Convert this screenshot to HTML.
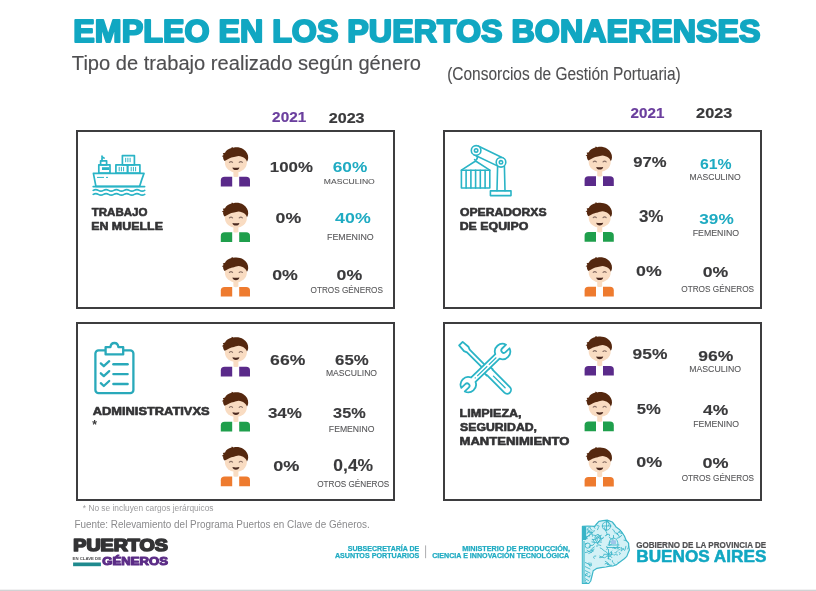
<!DOCTYPE html>
<html lang="es"><head><meta charset="utf-8"><title>Empleo en los Puertos Bonaerenses</title>
<style>html,body{margin:0;padding:0;background:#fff;width:816px;height:591px;overflow:hidden}
svg{display:block;font-family:"Liberation Sans", "DejaVu Sans", sans-serif}</style></head>
<body><svg width="816" height="591" viewBox="0 0 816 591">
<rect width="816" height="591" fill="#fff"/>
<rect x="77" y="131" width="317" height="177" fill="none" stroke="#3d3d3f" stroke-width="2"/>
<rect x="77" y="323" width="317" height="177" fill="none" stroke="#3d3d3f" stroke-width="2"/>
<rect x="444" y="131" width="317" height="177" fill="none" stroke="#3d3d3f" stroke-width="2"/>
<rect x="444" y="323" width="317" height="177" fill="none" stroke="#3d3d3f" stroke-width="2"/>
<g transform="translate(221.0,147.1)"><path d="M-0.2,39.4 L-0.2,33.4 Q-0.2,29.7 3.6,29.7 L11.2,29.7 L11.2,39.4 Z" fill="#5a2a8a"/><path d="M18.2,29.7 L25.2,29.7 Q29,29.7 29,33.4 L29,39.4 L18.2,39.4 Z" fill="#5a2a8a"/><path d="M12.4,22 L17.4,22 L17.4,29.4 Q14.9,30.6 12.4,29.4 Z" fill="#f9dcc2"/><ellipse cx="14.9" cy="15.3" rx="11" ry="10" fill="#f9dcc2"/><path d="M3.6,13.8 C2.4,12.4 1.8,11 2.2,9.6 L0.8,9.2 L2.6,7.8 L1.8,6.2 L4,5.6 C5,3 7.5,1.4 10.5,0.8 L10.8,-0.2 L12.6,0.6 C15.5,-0.2 19.5,0.4 22.4,2.2 C25.6,4.2 27.4,7.6 27.2,11 C27.1,12.4 26.7,13.6 26,14.6 C25.4,13 24.6,11.8 23.4,11 C21.8,9.6 19.8,9 17.6,8.8 C15.8,8.8 14.6,9.6 13,10 C11.2,10.4 9.6,10.6 8.2,11.4 C6.6,12.2 5.2,13 3.6,13.8 Z" fill="#55280f"/><path d="M8.4,15.3 Q10,13.7 11.6,15.3 M18.2,15.3 Q19.8,13.7 21.4,15.3" fill="none" stroke="#8a7066" stroke-width="1.1" stroke-linecap="round"/><path d="M11.4,20.3 Q14.9,21 18.4,20.3 Q17.8,23 14.9,23 Q12,23 11.4,20.3 Z" fill="#4b2a20"/></g>
<g transform="translate(221.0,202.6)"><path d="M-0.2,39.4 L-0.2,33.4 Q-0.2,29.7 3.6,29.7 L11.2,29.7 L11.2,39.4 Z" fill="#1f9f4c"/><path d="M18.2,29.7 L25.2,29.7 Q29,29.7 29,33.4 L29,39.4 L18.2,39.4 Z" fill="#1f9f4c"/><path d="M12.4,22 L17.4,22 L17.4,29.4 Q14.9,30.6 12.4,29.4 Z" fill="#f9dcc2"/><ellipse cx="14.9" cy="15.3" rx="11" ry="10" fill="#f9dcc2"/><path d="M3.6,13.8 C2.4,12.4 1.8,11 2.2,9.6 L0.8,9.2 L2.6,7.8 L1.8,6.2 L4,5.6 C5,3 7.5,1.4 10.5,0.8 L10.8,-0.2 L12.6,0.6 C15.5,-0.2 19.5,0.4 22.4,2.2 C25.6,4.2 27.4,7.6 27.2,11 C27.1,12.4 26.7,13.6 26,14.6 C25.4,13 24.6,11.8 23.4,11 C21.8,9.6 19.8,9 17.6,8.8 C15.8,8.8 14.6,9.6 13,10 C11.2,10.4 9.6,10.6 8.2,11.4 C6.6,12.2 5.2,13 3.6,13.8 Z" fill="#55280f"/><path d="M8.4,15.3 Q10,13.7 11.6,15.3 M18.2,15.3 Q19.8,13.7 21.4,15.3" fill="none" stroke="#8a7066" stroke-width="1.1" stroke-linecap="round"/><path d="M11.4,20.3 Q14.9,21 18.4,20.3 Q17.8,23 14.9,23 Q12,23 11.4,20.3 Z" fill="#4b2a20"/></g>
<g transform="translate(221.0,257.2)"><path d="M-0.2,39.4 L-0.2,33.4 Q-0.2,29.7 3.6,29.7 L11.2,29.7 L11.2,39.4 Z" fill="#ee7b2f"/><path d="M18.2,29.7 L25.2,29.7 Q29,29.7 29,33.4 L29,39.4 L18.2,39.4 Z" fill="#ee7b2f"/><path d="M12.4,22 L17.4,22 L17.4,29.4 Q14.9,30.6 12.4,29.4 Z" fill="#f9dcc2"/><ellipse cx="14.9" cy="15.3" rx="11" ry="10" fill="#f9dcc2"/><path d="M3.6,13.8 C2.4,12.4 1.8,11 2.2,9.6 L0.8,9.2 L2.6,7.8 L1.8,6.2 L4,5.6 C5,3 7.5,1.4 10.5,0.8 L10.8,-0.2 L12.6,0.6 C15.5,-0.2 19.5,0.4 22.4,2.2 C25.6,4.2 27.4,7.6 27.2,11 C27.1,12.4 26.7,13.6 26,14.6 C25.4,13 24.6,11.8 23.4,11 C21.8,9.6 19.8,9 17.6,8.8 C15.8,8.8 14.6,9.6 13,10 C11.2,10.4 9.6,10.6 8.2,11.4 C6.6,12.2 5.2,13 3.6,13.8 Z" fill="#55280f"/><path d="M8.4,15.3 Q10,13.7 11.6,15.3 M18.2,15.3 Q19.8,13.7 21.4,15.3" fill="none" stroke="#8a7066" stroke-width="1.1" stroke-linecap="round"/><path d="M11.4,20.3 Q14.9,21 18.4,20.3 Q17.8,23 14.9,23 Q12,23 11.4,20.3 Z" fill="#4b2a20"/></g>
<g transform="translate(584.8,146.6)"><path d="M-0.2,39.4 L-0.2,33.4 Q-0.2,29.7 3.6,29.7 L11.2,29.7 L11.2,39.4 Z" fill="#5a2a8a"/><path d="M18.2,29.7 L25.2,29.7 Q29,29.7 29,33.4 L29,39.4 L18.2,39.4 Z" fill="#5a2a8a"/><path d="M12.4,22 L17.4,22 L17.4,29.4 Q14.9,30.6 12.4,29.4 Z" fill="#f9dcc2"/><ellipse cx="14.9" cy="15.3" rx="11" ry="10" fill="#f9dcc2"/><path d="M3.6,13.8 C2.4,12.4 1.8,11 2.2,9.6 L0.8,9.2 L2.6,7.8 L1.8,6.2 L4,5.6 C5,3 7.5,1.4 10.5,0.8 L10.8,-0.2 L12.6,0.6 C15.5,-0.2 19.5,0.4 22.4,2.2 C25.6,4.2 27.4,7.6 27.2,11 C27.1,12.4 26.7,13.6 26,14.6 C25.4,13 24.6,11.8 23.4,11 C21.8,9.6 19.8,9 17.6,8.8 C15.8,8.8 14.6,9.6 13,10 C11.2,10.4 9.6,10.6 8.2,11.4 C6.6,12.2 5.2,13 3.6,13.8 Z" fill="#55280f"/><path d="M8.4,15.3 Q10,13.7 11.6,15.3 M18.2,15.3 Q19.8,13.7 21.4,15.3" fill="none" stroke="#8a7066" stroke-width="1.1" stroke-linecap="round"/><path d="M11.4,20.3 Q14.9,21 18.4,20.3 Q17.8,23 14.9,23 Q12,23 11.4,20.3 Z" fill="#4b2a20"/></g>
<g transform="translate(584.8,202.4)"><path d="M-0.2,39.4 L-0.2,33.4 Q-0.2,29.7 3.6,29.7 L11.2,29.7 L11.2,39.4 Z" fill="#1f9f4c"/><path d="M18.2,29.7 L25.2,29.7 Q29,29.7 29,33.4 L29,39.4 L18.2,39.4 Z" fill="#1f9f4c"/><path d="M12.4,22 L17.4,22 L17.4,29.4 Q14.9,30.6 12.4,29.4 Z" fill="#f9dcc2"/><ellipse cx="14.9" cy="15.3" rx="11" ry="10" fill="#f9dcc2"/><path d="M3.6,13.8 C2.4,12.4 1.8,11 2.2,9.6 L0.8,9.2 L2.6,7.8 L1.8,6.2 L4,5.6 C5,3 7.5,1.4 10.5,0.8 L10.8,-0.2 L12.6,0.6 C15.5,-0.2 19.5,0.4 22.4,2.2 C25.6,4.2 27.4,7.6 27.2,11 C27.1,12.4 26.7,13.6 26,14.6 C25.4,13 24.6,11.8 23.4,11 C21.8,9.6 19.8,9 17.6,8.8 C15.8,8.8 14.6,9.6 13,10 C11.2,10.4 9.6,10.6 8.2,11.4 C6.6,12.2 5.2,13 3.6,13.8 Z" fill="#55280f"/><path d="M8.4,15.3 Q10,13.7 11.6,15.3 M18.2,15.3 Q19.8,13.7 21.4,15.3" fill="none" stroke="#8a7066" stroke-width="1.1" stroke-linecap="round"/><path d="M11.4,20.3 Q14.9,21 18.4,20.3 Q17.8,23 14.9,23 Q12,23 11.4,20.3 Z" fill="#4b2a20"/></g>
<g transform="translate(584.8,257.1)"><path d="M-0.2,39.4 L-0.2,33.4 Q-0.2,29.7 3.6,29.7 L11.2,29.7 L11.2,39.4 Z" fill="#ee7b2f"/><path d="M18.2,29.7 L25.2,29.7 Q29,29.7 29,33.4 L29,39.4 L18.2,39.4 Z" fill="#ee7b2f"/><path d="M12.4,22 L17.4,22 L17.4,29.4 Q14.9,30.6 12.4,29.4 Z" fill="#f9dcc2"/><ellipse cx="14.9" cy="15.3" rx="11" ry="10" fill="#f9dcc2"/><path d="M3.6,13.8 C2.4,12.4 1.8,11 2.2,9.6 L0.8,9.2 L2.6,7.8 L1.8,6.2 L4,5.6 C5,3 7.5,1.4 10.5,0.8 L10.8,-0.2 L12.6,0.6 C15.5,-0.2 19.5,0.4 22.4,2.2 C25.6,4.2 27.4,7.6 27.2,11 C27.1,12.4 26.7,13.6 26,14.6 C25.4,13 24.6,11.8 23.4,11 C21.8,9.6 19.8,9 17.6,8.8 C15.8,8.8 14.6,9.6 13,10 C11.2,10.4 9.6,10.6 8.2,11.4 C6.6,12.2 5.2,13 3.6,13.8 Z" fill="#55280f"/><path d="M8.4,15.3 Q10,13.7 11.6,15.3 M18.2,15.3 Q19.8,13.7 21.4,15.3" fill="none" stroke="#8a7066" stroke-width="1.1" stroke-linecap="round"/><path d="M11.4,20.3 Q14.9,21 18.4,20.3 Q17.8,23 14.9,23 Q12,23 11.4,20.3 Z" fill="#4b2a20"/></g>
<g transform="translate(221.0,337.0)"><path d="M-0.2,39.4 L-0.2,33.4 Q-0.2,29.7 3.6,29.7 L11.2,29.7 L11.2,39.4 Z" fill="#5a2a8a"/><path d="M18.2,29.7 L25.2,29.7 Q29,29.7 29,33.4 L29,39.4 L18.2,39.4 Z" fill="#5a2a8a"/><path d="M12.4,22 L17.4,22 L17.4,29.4 Q14.9,30.6 12.4,29.4 Z" fill="#f9dcc2"/><ellipse cx="14.9" cy="15.3" rx="11" ry="10" fill="#f9dcc2"/><path d="M3.6,13.8 C2.4,12.4 1.8,11 2.2,9.6 L0.8,9.2 L2.6,7.8 L1.8,6.2 L4,5.6 C5,3 7.5,1.4 10.5,0.8 L10.8,-0.2 L12.6,0.6 C15.5,-0.2 19.5,0.4 22.4,2.2 C25.6,4.2 27.4,7.6 27.2,11 C27.1,12.4 26.7,13.6 26,14.6 C25.4,13 24.6,11.8 23.4,11 C21.8,9.6 19.8,9 17.6,8.8 C15.8,8.8 14.6,9.6 13,10 C11.2,10.4 9.6,10.6 8.2,11.4 C6.6,12.2 5.2,13 3.6,13.8 Z" fill="#55280f"/><path d="M8.4,15.3 Q10,13.7 11.6,15.3 M18.2,15.3 Q19.8,13.7 21.4,15.3" fill="none" stroke="#8a7066" stroke-width="1.1" stroke-linecap="round"/><path d="M11.4,20.3 Q14.9,21 18.4,20.3 Q17.8,23 14.9,23 Q12,23 11.4,20.3 Z" fill="#4b2a20"/></g>
<g transform="translate(221.0,392.0)"><path d="M-0.2,39.4 L-0.2,33.4 Q-0.2,29.7 3.6,29.7 L11.2,29.7 L11.2,39.4 Z" fill="#1f9f4c"/><path d="M18.2,29.7 L25.2,29.7 Q29,29.7 29,33.4 L29,39.4 L18.2,39.4 Z" fill="#1f9f4c"/><path d="M12.4,22 L17.4,22 L17.4,29.4 Q14.9,30.6 12.4,29.4 Z" fill="#f9dcc2"/><ellipse cx="14.9" cy="15.3" rx="11" ry="10" fill="#f9dcc2"/><path d="M3.6,13.8 C2.4,12.4 1.8,11 2.2,9.6 L0.8,9.2 L2.6,7.8 L1.8,6.2 L4,5.6 C5,3 7.5,1.4 10.5,0.8 L10.8,-0.2 L12.6,0.6 C15.5,-0.2 19.5,0.4 22.4,2.2 C25.6,4.2 27.4,7.6 27.2,11 C27.1,12.4 26.7,13.6 26,14.6 C25.4,13 24.6,11.8 23.4,11 C21.8,9.6 19.8,9 17.6,8.8 C15.8,8.8 14.6,9.6 13,10 C11.2,10.4 9.6,10.6 8.2,11.4 C6.6,12.2 5.2,13 3.6,13.8 Z" fill="#55280f"/><path d="M8.4,15.3 Q10,13.7 11.6,15.3 M18.2,15.3 Q19.8,13.7 21.4,15.3" fill="none" stroke="#8a7066" stroke-width="1.1" stroke-linecap="round"/><path d="M11.4,20.3 Q14.9,21 18.4,20.3 Q17.8,23 14.9,23 Q12,23 11.4,20.3 Z" fill="#4b2a20"/></g>
<g transform="translate(221.0,446.8)"><path d="M-0.2,39.4 L-0.2,33.4 Q-0.2,29.7 3.6,29.7 L11.2,29.7 L11.2,39.4 Z" fill="#ee7b2f"/><path d="M18.2,29.7 L25.2,29.7 Q29,29.7 29,33.4 L29,39.4 L18.2,39.4 Z" fill="#ee7b2f"/><path d="M12.4,22 L17.4,22 L17.4,29.4 Q14.9,30.6 12.4,29.4 Z" fill="#f9dcc2"/><ellipse cx="14.9" cy="15.3" rx="11" ry="10" fill="#f9dcc2"/><path d="M3.6,13.8 C2.4,12.4 1.8,11 2.2,9.6 L0.8,9.2 L2.6,7.8 L1.8,6.2 L4,5.6 C5,3 7.5,1.4 10.5,0.8 L10.8,-0.2 L12.6,0.6 C15.5,-0.2 19.5,0.4 22.4,2.2 C25.6,4.2 27.4,7.6 27.2,11 C27.1,12.4 26.7,13.6 26,14.6 C25.4,13 24.6,11.8 23.4,11 C21.8,9.6 19.8,9 17.6,8.8 C15.8,8.8 14.6,9.6 13,10 C11.2,10.4 9.6,10.6 8.2,11.4 C6.6,12.2 5.2,13 3.6,13.8 Z" fill="#55280f"/><path d="M8.4,15.3 Q10,13.7 11.6,15.3 M18.2,15.3 Q19.8,13.7 21.4,15.3" fill="none" stroke="#8a7066" stroke-width="1.1" stroke-linecap="round"/><path d="M11.4,20.3 Q14.9,21 18.4,20.3 Q17.8,23 14.9,23 Q12,23 11.4,20.3 Z" fill="#4b2a20"/></g>
<g transform="translate(584.8,336.2)"><path d="M-0.2,39.4 L-0.2,33.4 Q-0.2,29.7 3.6,29.7 L11.2,29.7 L11.2,39.4 Z" fill="#5a2a8a"/><path d="M18.2,29.7 L25.2,29.7 Q29,29.7 29,33.4 L29,39.4 L18.2,39.4 Z" fill="#5a2a8a"/><path d="M12.4,22 L17.4,22 L17.4,29.4 Q14.9,30.6 12.4,29.4 Z" fill="#f9dcc2"/><ellipse cx="14.9" cy="15.3" rx="11" ry="10" fill="#f9dcc2"/><path d="M3.6,13.8 C2.4,12.4 1.8,11 2.2,9.6 L0.8,9.2 L2.6,7.8 L1.8,6.2 L4,5.6 C5,3 7.5,1.4 10.5,0.8 L10.8,-0.2 L12.6,0.6 C15.5,-0.2 19.5,0.4 22.4,2.2 C25.6,4.2 27.4,7.6 27.2,11 C27.1,12.4 26.7,13.6 26,14.6 C25.4,13 24.6,11.8 23.4,11 C21.8,9.6 19.8,9 17.6,8.8 C15.8,8.8 14.6,9.6 13,10 C11.2,10.4 9.6,10.6 8.2,11.4 C6.6,12.2 5.2,13 3.6,13.8 Z" fill="#55280f"/><path d="M8.4,15.3 Q10,13.7 11.6,15.3 M18.2,15.3 Q19.8,13.7 21.4,15.3" fill="none" stroke="#8a7066" stroke-width="1.1" stroke-linecap="round"/><path d="M11.4,20.3 Q14.9,21 18.4,20.3 Q17.8,23 14.9,23 Q12,23 11.4,20.3 Z" fill="#4b2a20"/></g>
<g transform="translate(584.8,391.8)"><path d="M-0.2,39.4 L-0.2,33.4 Q-0.2,29.7 3.6,29.7 L11.2,29.7 L11.2,39.4 Z" fill="#1f9f4c"/><path d="M18.2,29.7 L25.2,29.7 Q29,29.7 29,33.4 L29,39.4 L18.2,39.4 Z" fill="#1f9f4c"/><path d="M12.4,22 L17.4,22 L17.4,29.4 Q14.9,30.6 12.4,29.4 Z" fill="#f9dcc2"/><ellipse cx="14.9" cy="15.3" rx="11" ry="10" fill="#f9dcc2"/><path d="M3.6,13.8 C2.4,12.4 1.8,11 2.2,9.6 L0.8,9.2 L2.6,7.8 L1.8,6.2 L4,5.6 C5,3 7.5,1.4 10.5,0.8 L10.8,-0.2 L12.6,0.6 C15.5,-0.2 19.5,0.4 22.4,2.2 C25.6,4.2 27.4,7.6 27.2,11 C27.1,12.4 26.7,13.6 26,14.6 C25.4,13 24.6,11.8 23.4,11 C21.8,9.6 19.8,9 17.6,8.8 C15.8,8.8 14.6,9.6 13,10 C11.2,10.4 9.6,10.6 8.2,11.4 C6.6,12.2 5.2,13 3.6,13.8 Z" fill="#55280f"/><path d="M8.4,15.3 Q10,13.7 11.6,15.3 M18.2,15.3 Q19.8,13.7 21.4,15.3" fill="none" stroke="#8a7066" stroke-width="1.1" stroke-linecap="round"/><path d="M11.4,20.3 Q14.9,21 18.4,20.3 Q17.8,23 14.9,23 Q12,23 11.4,20.3 Z" fill="#4b2a20"/></g>
<g transform="translate(584.8,447.2)"><path d="M-0.2,39.4 L-0.2,33.4 Q-0.2,29.7 3.6,29.7 L11.2,29.7 L11.2,39.4 Z" fill="#ee7b2f"/><path d="M18.2,29.7 L25.2,29.7 Q29,29.7 29,33.4 L29,39.4 L18.2,39.4 Z" fill="#ee7b2f"/><path d="M12.4,22 L17.4,22 L17.4,29.4 Q14.9,30.6 12.4,29.4 Z" fill="#f9dcc2"/><ellipse cx="14.9" cy="15.3" rx="11" ry="10" fill="#f9dcc2"/><path d="M3.6,13.8 C2.4,12.4 1.8,11 2.2,9.6 L0.8,9.2 L2.6,7.8 L1.8,6.2 L4,5.6 C5,3 7.5,1.4 10.5,0.8 L10.8,-0.2 L12.6,0.6 C15.5,-0.2 19.5,0.4 22.4,2.2 C25.6,4.2 27.4,7.6 27.2,11 C27.1,12.4 26.7,13.6 26,14.6 C25.4,13 24.6,11.8 23.4,11 C21.8,9.6 19.8,9 17.6,8.8 C15.8,8.8 14.6,9.6 13,10 C11.2,10.4 9.6,10.6 8.2,11.4 C6.6,12.2 5.2,13 3.6,13.8 Z" fill="#55280f"/><path d="M8.4,15.3 Q10,13.7 11.6,15.3 M18.2,15.3 Q19.8,13.7 21.4,15.3" fill="none" stroke="#8a7066" stroke-width="1.1" stroke-linecap="round"/><path d="M11.4,20.3 Q14.9,21 18.4,20.3 Q17.8,23 14.9,23 Q12,23 11.4,20.3 Z" fill="#4b2a20"/></g>
<g fill="none" stroke="#2ab4c6" stroke-width="1.7" stroke-linejoin="round" stroke-linecap="round"><path d="M93.4,173.4 L144.0,173.4 Q141.5,180 139.6,186.4 L95.9,186.4 Z"/><path d="M93.2,186.6 L144.6,186.6"/><path d="M93.2,190.4 q2.58,-1.6 5.15,0 q2.58,1.6 5.15,0 q2.58,-1.6 5.15,0 q2.58,1.6 5.15,0 q2.58,-1.6 5.15,0 q2.58,1.6 5.15,0 q2.58,-1.6 5.15,0 q2.58,1.6 5.15,0 q2.58,-1.6 5.15,0 q2.58,1.6 5.15,0"/><path d="M93.2,194.4 q2.58,-1.6 5.15,0 q2.58,1.6 5.15,0 q2.58,-1.6 5.15,0 q2.58,1.6 5.15,0 q2.58,-1.6 5.15,0 q2.58,1.6 5.15,0 q2.58,-1.6 5.15,0 q2.58,1.6 5.15,0 q2.58,-1.6 5.15,0 q2.58,1.6 5.15,0"/><rect x="98.8" y="164.8" width="11.2" height="8.4"/><rect x="100.6" y="160.8" width="6" height="4"/><path d="M102,160.8 L102,156 M102,157 L104,158"/><rect x="115.9" y="164.8" width="11.7" height="8.4"/><rect x="127.6" y="164.8" width="12.3" height="8.4"/><rect x="122.4" y="155.6" width="12" height="9.2"/></g><g stroke="#2ab4c6" stroke-width="1" fill="none"><path d="M119.2,166.9 L119.2,171.3"/><path d="M121.4,166.9 L121.4,171.3"/><path d="M123.6,166.9 L123.6,171.3"/><path d="M131.2,166.9 L131.2,171.3"/><path d="M133.4,166.9 L133.4,171.3"/><path d="M135.6,166.9 L135.6,171.3"/><path d="M125.7,157.8 L125.7,162.20000000000002"/><path d="M127.9,157.8 L127.9,162.20000000000002"/><path d="M130.1,157.8 L130.1,162.20000000000002"/><path d="M97,177.4 L104,177.4 M106,177.4 L108,177.4"/></g><rect x="102" y="167.2" width="7" height="2.8" fill="#2ab4c6"/>
<g fill="none" stroke="#2ab4c6" stroke-width="1.6" stroke-linejoin="round" stroke-linecap="round"><rect x="461.4" y="170.2" width="28.4" height="17.8"/><path d="M466.1,170.2 L466.1,188"/><path d="M470.9,170.2 L470.9,188"/><path d="M475.6,170.2 L475.6,188"/><path d="M480.3,170.2 L480.3,188"/><path d="M485.1,170.2 L485.1,188"/><path d="M461.4,170.2 L475.6,161 L489.8,170.2"/><path d="M476.1,155.1 Q478.5,157.5 476.5,159.6 Q475.6,160.4 474.6,159.6"/><path d="M474.03,154.73 L498.93,166.63"/><path d="M478.17,146.07 L503.07,157.97"/><path d="M497.6,166.2 L497,190.7 M504.4,166.2 L505,190.7"/><rect x="490.4" y="190.9" width="20.6" height="4.7"/></g><g fill="#fff" stroke="#2ab4c6" stroke-width="1.6"><circle cx="476.1" cy="150.4" r="4.8"/><circle cx="501.0" cy="162.3" r="4.8"/><circle cx="476.1" cy="150.4" r="1.7"/><circle cx="501.0" cy="162.3" r="1.7"/></g>
<g fill="none" stroke="#29a9ba" stroke-width="2.3" stroke-linejoin="round" stroke-linecap="round"><rect x="95.4" y="350.4" width="38" height="42.8" rx="3.2"/><path d="M105.6,354.4 L105.6,347.2 L110.4,347.2 Q110.9,343 114.4,343 Q117.9,343 118.4,347.2 L123.2,347.2 L123.2,354.4 Z" fill="#fff"/><path d="M100.8,363.4 L103.8,366.2 L109.2,361.2"/><path d="M113.4,364.2 L127.6,364.2" stroke-width="2.4"/><path d="M100.8,373.3 L103.8,376.1 L109.2,371.1"/><path d="M113.4,374.1 L127.6,374.1" stroke-width="2.4"/><path d="M100.8,383.2 L103.8,386.0 L109.2,381.0"/><path d="M113.4,384.0 L127.6,384.0" stroke-width="2.4"/></g>
<g transform="translate(460.9,343.6) rotate(45)"><path d="M0,-2.5 L7.5,-3.1 L10.5,-1.9 L37.5,-1.9 L37.5,-4.3 L40.8,-4.3 L40.8,-3.9 L65.4,-3.9 A3.9,3.9 0 0 1 65.4,3.9 L40.8,3.9 L40.8,4.3 L37.5,4.3 L37.5,1.9 L10.5,1.9 L7.5,3.1 L0,2.5 Z" fill="#fff" stroke="#2ab4c6" stroke-width="1.8" stroke-linejoin="round"/><path d="M46,0 L62.5,0" stroke="#2ab4c6" stroke-width="1.4" stroke-linecap="round"/></g><g transform="translate(468.3,384.6) rotate(-44)"><path d="M7.05,-3.1 L40.55,-3.1 A7.7,7.7 0 0 1 54.88,-2.5 L49.40,-2.5 A2.5,2.5 0 0 0 49.40,2.5 L54.88,2.5 A7.7,7.7 0 0 1 40.55,3.1 L7.05,3.1 A7.7,7.7 0 0 1 -7.28,2.5 L-1.80,2.5 A2.5,2.5 0 0 0 -1.80,-2.5 L-7.28,-2.5 A7.7,7.7 0 0 1 7.05,-3.1 Z" fill="#fff" stroke="#2ab4c6" stroke-width="1.8" stroke-linejoin="round"/><path d="M9,0 L39,0" stroke="#2ab4c6" stroke-width="1.1" stroke-dasharray="1.2 2.2 14 2.2 14 2.2 1.2" /></g>
<rect x="73.1" y="562.5" width="27.8" height="3.7" fill="#1f8a8e"/>
<rect x="425" y="545.4" width="1.1" height="12.8" fill="#b4b4b6"/>
<clipPath id="baclip"><path d="M582.4,526.4 L588,526 L594.5,526.4 L597,523.5 L598.9,521.3 L603,520.6 L607.2,520.1 L612.3,522 L614.5,524.6 L616.1,527.1 L619.5,529.4 L621.8,532.1 L624.4,536 L626.2,540.4 L628.6,543.2 L628.8,546.7 L629.4,550 L628.1,553.1 L626.8,556.4 L624.3,558.8 L619.9,562 L616.6,564.6 L613.5,565.8 L609.8,566.2 L605.9,567 L601,567.6 L597,568.3 L593.2,570.8 L592,575.9 L590.7,581 L588.8,583.5 L582.4,583.5 Z"/></clipPath>
<path d="M582.4,526.4 L588,526 L594.5,526.4 L597,523.5 L598.9,521.3 L603,520.6 L607.2,520.1 L612.3,522 L614.5,524.6 L616.1,527.1 L619.5,529.4 L621.8,532.1 L624.4,536 L626.2,540.4 L628.6,543.2 L628.8,546.7 L629.4,550 L628.1,553.1 L626.8,556.4 L624.3,558.8 L619.9,562 L616.6,564.6 L613.5,565.8 L609.8,566.2 L605.9,567 L601,567.6 L597,568.3 L593.2,570.8 L592,575.9 L590.7,581 L588.8,583.5 L582.4,583.5 Z" fill="#d3f1f6" stroke="#3db7c9" stroke-width="1.2" stroke-linejoin="round"/>
<g clip-path="url(#baclip)" fill="none" stroke="#38b4c7" stroke-width="0.85" stroke-linecap="round">
<path d="M597.5,529.7 Q598.5,527.1 599.1,526.2 M584.8,552.5 Q579.9,549.8 580.2,551.9 M602.4,572.9 Q601.3,574.5 598.6,570.7 M609.7,545.4 Q614.2,542.3 614.5,541.8 M588.9,527.5 Q586.1,529.3 587.0,530.1 M612.7,543.8 Q610.3,540.3 613.1,540.3 M614.7,547.4 Q613.4,546.5 612.8,548.1 M620.1,564.7 Q619.0,567.3 617.6,565.3 M617.0,538.4 Q618.9,538.4 621.8,535.4 M589.3,551.3 Q588.6,552.4 584.7,552.6 M624.0,540.1 Q625.5,540.2 626.0,540.8 M622.3,580.5 Q619.6,582.3 622.1,581.8 M613.1,583.6 Q614.0,583.7 616.3,581.8 M583.1,549.5 Q578.8,549.6 579.8,546.5 M588.2,535.8 Q585.1,537.0 587.1,538.8 M608.4,576.5 Q608.6,577.5 611.6,579.4 M599.2,576.6 Q599.6,573.6 603.8,573.8 M593.2,551.0 Q590.7,549.6 594.1,549.1 M599.7,556.2 Q602.1,557.7 604.3,557.8 M614.5,523.5 Q618.7,526.4 618.5,525.7 M600.8,545.5 Q596.2,543.5 596.9,546.6 M592.0,530.4 Q588.2,526.5 590.4,526.8 M586.9,543.3 Q585.2,542.7 582.1,546.3 M594.1,542.2 Q595.5,543.7 592.8,539.2 M604.4,551.0 Q601.4,548.0 600.2,547.8 M621.8,530.3 Q619.6,530.0 617.0,533.9 M608.1,521.7 Q610.4,524.8 608.4,525.6 M594.5,543.5 Q593.1,546.2 591.2,545.6 M597.8,534.3 Q601.5,538.1 600.9,538.2 M621.3,567.4 Q619.0,564.6 618.5,567.5 M583.3,537.9 Q584.9,538.3 580.9,539.4 M627.0,583.2 Q627.6,581.1 631.5,582.2 M591.4,533.1 Q594.1,534.6 592.7,536.3 M613.3,571.2 Q613.7,573.5 609.2,572.5 M618.0,550.6 Q615.4,553.6 614.8,552.9 M628.6,545.3 Q629.5,545.1 627.7,548.9 M588.1,529.7 Q588.0,532.9 592.1,532.1 M629.1,562.1 Q626.1,559.3 627.6,562.5 M628.6,561.6 Q628.3,565.5 628.9,565.0 M621.7,533.5 Q618.9,533.2 619.2,531.9 M594.4,546.8 Q591.7,548.2 590.8,550.1 M610.0,577.9 Q609.6,579.7 609.2,581.2 M607.1,521.2 Q603.9,521.7 606.5,518.7 M590.3,550.3 Q590.4,550.6 592.5,550.8 M608.7,570.2 Q605.2,569.1 604.7,570.7 M619.1,552.5 Q621.9,553.2 619.7,554.6 M611.4,552.4 Q611.2,553.3 611.5,553.9 M604.9,580.3 Q608.6,580.3 606.9,583.3 M608.9,580.4 Q608.3,578.6 612.3,577.5 M585.5,535.4 Q585.1,538.5 581.2,536.8 M589.4,565.8 Q592.5,567.2 591.0,563.0 M592.5,581.0 Q595.0,582.9 591.5,580.9 M589.8,547.6 Q588.0,545.9 589.9,546.3 M616.7,521.2 Q614.0,520.0 617.2,520.8 M611.9,552.8 Q611.5,557.6 607.6,556.7 M587.0,537.0 Q583.4,535.9 582.4,539.2 M602.3,578.3 Q601.8,579.9 605.5,576.4 M609.4,564.8 Q608.5,562.6 605.3,561.3 M585.5,580.1 Q583.7,583.4 586.8,582.5 M585.2,575.2 Q585.3,577.1 584.7,573.9 M594.9,528.3 Q592.6,525.2 595.1,526.2 M584.4,532.9 Q585.0,530.9 582.5,531.4 M606.0,531.4 Q603.7,526.6 604.5,527.5 M617.2,555.3 Q618.2,552.8 614.1,555.1 M621.3,547.7 Q620.6,549.0 621.3,550.3 M615.0,582.9 Q615.5,585.0 613.4,585.5 M601.4,542.2 Q596.6,542.2 597.0,539.3 M594.3,530.4 Q594.4,532.8 590.1,533.2 M595.5,535.5 Q592.4,535.0 593.5,535.2 M594.6,581.6 Q595.5,584.5 599.4,581.9 M596.9,542.8 Q594.2,542.4 591.9,541.9 M591.6,552.3 Q586.7,550.8 586.7,550.4 M584.0,521.4 Q583.5,520.5 582.0,519.3 M618.0,562.1 Q618.4,562.6 620.2,565.1 M629.3,529.6 Q627.7,532.2 631.5,530.7 M624.8,560.1 Q623.8,561.5 627.2,562.6 M606.2,573.4 Q608.2,577.1 609.3,576.0 M614.8,564.4 Q611.2,561.7 612.1,560.6 M587.0,573.5 Q588.1,575.1 587.6,574.5 M605.5,520.2 Q607.0,521.4 608.5,522.2 M613.6,524.2 Q612.3,521.8 616.0,522.2 M617.0,533.1 Q618.2,534.3 619.4,536.9 M605.0,563.8 Q607.2,561.7 607.7,564.7 M589.1,536.3 Q590.7,532.5 591.5,534.7 M584.9,537.2 Q586.8,536.7 586.6,538.7 M606.8,549.7 Q609.0,546.4 606.5,546.7 M629.0,579.9 Q628.5,582.6 624.1,579.6 M603.6,537.2 Q600.4,539.5 600.7,540.8 M588.8,553.5 Q593.0,552.1 593.3,550.6 M624.6,565.0 Q623.1,563.8 621.9,568.2 M582.2,551.5 Q579.8,549.7 581.7,549.9 M597.2,573.8 Q596.7,572.5 592.2,575.8 M626.5,565.6 Q627.7,564.2 630.5,564.0 M629.9,557.7 Q627.9,554.7 628.5,557.1 M586.9,573.4 Q584.3,573.8 584.7,576.9 M606.5,532.2 Q608.2,535.8 605.3,535.8 M612.3,578.5 Q615.8,576.0 616.7,578.9 M617.2,548.9 Q617.1,546.7 619.7,550.0 M626.5,528.1 Q625.1,529.0 626.2,526.9 M628.9,536.7 Q630.0,535.2 630.4,535.1 M590.0,530.3 Q588.6,530.3 587.1,533.6 M625.5,583.8 Q623.4,579.9 625.0,580.9 M598.4,525.8 Q597.5,527.2 595.8,523.9 M618.0,546.4 Q616.8,545.5 617.1,546.6 M585.0,537.8 Q587.3,537.0 589.7,534.8 M623.4,533.8 Q621.7,532.5 621.1,531.8 M627.8,574.3 Q626.8,573.7 631.5,570.5 M625.0,550.3 Q624.8,550.9 625.9,546.3 M621.6,574.7 Q621.6,571.7 626.4,572.7 M607.1,563.7 Q610.2,566.1 611.5,565.4 M604.0,555.3 Q600.0,558.9 599.3,557.6 M613.0,539.4 Q611.9,539.6 609.3,537.5 M587.4,524.5 Q586.8,523.2 587.6,525.2 M610.9,520.7 Q612.6,521.4 608.9,520.4 M624.4,550.4 Q625.9,550.6 621.8,548.4 M596.8,521.4 Q596.3,520.6 596.7,522.8 M614.0,579.2 Q611.7,576.9 611.3,575.5 M614.8,532.7 Q616.3,531.9 617.7,534.6 M628.6,539.9 Q628.5,540.4 631.8,537.8 M596.2,580.9 Q594.5,579.2 596.1,578.4 M613.9,580.7 Q610.4,583.1 610.4,579.9 M588.8,523.3 Q589.0,525.2 584.4,522.5 M617.2,583.8 Q617.4,585.8 621.5,582.5 M617.8,522.0 Q617.9,520.5 619.5,521.1 M590.1,520.2 Q591.8,517.3 587.9,519.0 M628.3,533.3 Q629.5,534.2 626.9,535.8 M584.4,550.3 Q581.9,551.2 583.1,553.7 M625.1,521.9 Q626.2,520.4 624.2,524.4 M583.7,524.0 Q587.3,525.4 587.9,522.1 M598.3,537.4 Q599.1,539.2 602.9,538.4 M597.2,537.6 Q597.2,539.5 592.2,539.7 M627.3,521.6 Q628.7,524.2 624.6,521.4 M600.6,536.1 Q602.8,534.1 599.9,536.0 M620.5,567.3 Q622.8,567.3 623.8,569.4 M597.3,543.2 Q596.9,543.0 600.2,539.8 M593.9,524.1 Q590.5,527.2 589.2,524.6 M624.4,583.2 Q620.8,581.5 622.1,579.9 M616.1,548.6 Q615.5,549.3 613.4,547.9 M617.9,574.2 Q620.8,571.5 619.5,571.2 M609.2,543.9 Q608.9,541.1 611.6,541.5 M589.4,576.6 Q589.1,578.8 590.1,575.2 M606.4,534.8 Q610.8,533.0 609.4,536.0 M604.8,572.4 Q603.7,572.8 608.2,575.7 M587.7,532.1 Q592.7,531.7 592.5,532.8 M623.6,548.7 Q625.0,547.5 621.2,551.0 M610.6,559.7 Q607.1,557.4 607.8,558.6 M594.2,558.4 Q592.1,556.1 595.8,556.0 M614.6,531.8 Q615.4,531.0 612.7,529.5 M585.0,526.5 Q585.3,524.2 584.0,526.9 M589.9,564.5 Q588.3,566.4 589.0,562.8"/>
<circle cx="606.5" cy="526" r="4.2"/><path d="M602.3,526 L610.7,526 M606.5,521.8 L606.5,530.2"/><path d="M597.7,543.5 Q594.2,539.5 595,537 Q596,534.6 597.7,534.6 Q599.4,534.6 600.4,537 Q601.2,539.5 597.7,543.5 Z"/><circle cx="597.7" cy="537.4" r="1"/><path d="M608,545 L619,545 M609,545 Q609,538.5 613.5,538 Q618,538.5 618,545 M613.5,538 L613.5,535.5 M607,547.5 L620,547.5"/><path d="M608.5,549.5 L608.5,559 M603.8,554.3 L613.2,554.3 M605.2,551 L611.8,557.6 M605.2,557.6 L611.8,551"/><circle cx="587.8" cy="545.6" r="2.6"/><path d="M584,566 L590,569 M584,570 L590,573 M584,574 L589,577 M584,578 L588.5,580.5 M584,562 L591,565"/>
</g>
<path d="M582.4,526.4 L586.2,526.4 L586.2,540 L582.4,540 Z" fill="#38b4c7"/>
<path d="M582.6,541 L585,541 L585,583 L582.6,583 Z" fill="#7fd0dc"/>
<path d="M611,540.5 Q613.5,539.6 616,540.5 L616,544 L611,544 Z" fill="#9fc6ea"/>
<rect x="0" y="589.7" width="816" height="1.3" fill="#d2d2d4"/>
<text x="73.37" y="41.50" font-size="31.25" font-weight="700" fill="#11a7c2" stroke="#11a7c2" stroke-width="2.0" stroke-linejoin="round" textLength="687.13" lengthAdjust="spacingAndGlyphs">EMPLEO EN LOS PUERTOS BONAERENSES</text>
<text x="71.87" y="69.52" font-size="20.50" font-weight="400" fill="#4f4f51" stroke="#4f4f51" stroke-width="0.15" stroke-linejoin="round" textLength="349.18" lengthAdjust="spacingAndGlyphs">Tipo de trabajo realizado según género</text>
<text x="447.22" y="79.65" font-size="18.00" font-weight="400" fill="#4f4f51" stroke="#4f4f51" stroke-width="0.1" stroke-linejoin="round" textLength="233.55" lengthAdjust="spacingAndGlyphs">(Consorcios de Gestión Portuaria)</text>
<text x="272.14" y="121.90" font-size="14.12" font-weight="700" fill="#6b3f9e" stroke="#6b3f9e" stroke-width="0.2" stroke-linejoin="round" textLength="34.06" lengthAdjust="spacingAndGlyphs">2021</text>
<text x="328.72" y="122.70" font-size="14.27" font-weight="700" fill="#3a3a3c" stroke="#3a3a3c" stroke-width="0.2" stroke-linejoin="round" textLength="35.87" lengthAdjust="spacingAndGlyphs">2023</text>
<text x="630.64" y="118.40" font-size="14.69" font-weight="700" fill="#6b3f9e" stroke="#6b3f9e" stroke-width="0.2" stroke-linejoin="round" textLength="33.75" lengthAdjust="spacingAndGlyphs">2021</text>
<text x="696.11" y="118.40" font-size="14.55" font-weight="700" fill="#3a3a3c" stroke="#3a3a3c" stroke-width="0.2" stroke-linejoin="round" textLength="36.18" lengthAdjust="spacingAndGlyphs">2023</text>
<text x="269.85" y="172.24" font-size="14.52" font-weight="700" fill="#3a3a3c" stroke="#3a3a3c" stroke-width="0.12" stroke-linejoin="round" textLength="43.01" lengthAdjust="spacingAndGlyphs">100%</text>
<text x="332.78" y="172.30" font-size="14.55" font-weight="700" fill="#1fabc2" textLength="34.55" lengthAdjust="spacingAndGlyphs">60%</text>
<text x="323.87" y="183.75" font-size="7.70" font-weight="400" fill="#58585a" stroke="#58585a" stroke-width="0.1" stroke-linejoin="round" textLength="50.89" lengthAdjust="spacingAndGlyphs">MASCULINO</text>
<text x="275.63" y="223.34" font-size="14.94" font-weight="700" fill="#3a3a3c" stroke="#3a3a3c" stroke-width="0.12" stroke-linejoin="round" textLength="25.65" lengthAdjust="spacingAndGlyphs">0%</text>
<text x="335.12" y="223.40" font-size="15.11" font-weight="700" fill="#1fabc2" textLength="35.62" lengthAdjust="spacingAndGlyphs">40%</text>
<text x="327.04" y="239.75" font-size="9.74" font-weight="400" fill="#58585a" stroke="#58585a" stroke-width="0.1" stroke-linejoin="round" textLength="46.73" lengthAdjust="spacingAndGlyphs">FEMENINO</text>
<text x="272.23" y="279.54" font-size="15.51" font-weight="700" fill="#3a3a3c" stroke="#3a3a3c" stroke-width="0.12" stroke-linejoin="round" textLength="25.65" lengthAdjust="spacingAndGlyphs">0%</text>
<text x="336.53" y="279.54" font-size="15.51" font-weight="700" fill="#3a3a3c" stroke="#3a3a3c" stroke-width="0.12" stroke-linejoin="round" textLength="25.65" lengthAdjust="spacingAndGlyphs">0%</text>
<text x="310.52" y="292.75" font-size="9.30" font-weight="400" fill="#58585a" stroke="#58585a" stroke-width="0.1" stroke-linejoin="round" textLength="72.43" lengthAdjust="spacingAndGlyphs">OTROS GÉNEROS</text>
<text x="633.16" y="167.04" font-size="15.08" font-weight="700" fill="#3a3a3c" stroke="#3a3a3c" stroke-width="0.12" stroke-linejoin="round" textLength="33.30" lengthAdjust="spacingAndGlyphs">97%</text>
<text x="700.03" y="168.80" font-size="15.25" font-weight="700" fill="#1fabc2" textLength="31.68" lengthAdjust="spacingAndGlyphs">61%</text>
<text x="689.56" y="180.25" font-size="8.58" font-weight="400" fill="#58585a" stroke="#58585a" stroke-width="0.1" stroke-linejoin="round" textLength="51.10" lengthAdjust="spacingAndGlyphs">MASCULINO</text>
<text x="638.92" y="222.44" font-size="15.65" font-weight="700" fill="#3a3a3c" stroke="#3a3a3c" stroke-width="0.12" stroke-linejoin="round" textLength="24.55" lengthAdjust="spacingAndGlyphs">3%</text>
<text x="699.26" y="224.30" font-size="14.97" font-weight="700" fill="#1fabc2" textLength="34.47" lengthAdjust="spacingAndGlyphs">39%</text>
<text x="692.75" y="235.85" font-size="9.01" font-weight="400" fill="#58585a" stroke="#58585a" stroke-width="0.1" stroke-linejoin="round" textLength="46.32" lengthAdjust="spacingAndGlyphs">FEMENINO</text>
<text x="636.03" y="275.74" font-size="14.10" font-weight="700" fill="#3a3a3c" stroke="#3a3a3c" stroke-width="0.12" stroke-linejoin="round" textLength="25.65" lengthAdjust="spacingAndGlyphs">0%</text>
<text x="702.73" y="276.64" font-size="14.94" font-weight="700" fill="#3a3a3c" stroke="#3a3a3c" stroke-width="0.12" stroke-linejoin="round" textLength="25.55" lengthAdjust="spacingAndGlyphs">0%</text>
<text x="681.22" y="291.75" font-size="8.87" font-weight="400" fill="#58585a" stroke="#58585a" stroke-width="0.1" stroke-linejoin="round" textLength="72.83" lengthAdjust="spacingAndGlyphs">OTROS GÉNEROS</text>
<text x="270.13" y="364.84" font-size="14.38" font-weight="700" fill="#3a3a3c" stroke="#3a3a3c" stroke-width="0.12" stroke-linejoin="round" textLength="35.14" lengthAdjust="spacingAndGlyphs">66%</text>
<text x="335.06" y="364.84" font-size="14.38" font-weight="700" fill="#3a3a3c" stroke="#3a3a3c" stroke-width="0.12" stroke-linejoin="round" textLength="33.61" lengthAdjust="spacingAndGlyphs">65%</text>
<text x="325.96" y="375.95" font-size="9.30" font-weight="400" fill="#58585a" stroke="#58585a" stroke-width="0.1" stroke-linejoin="round" textLength="51.10" lengthAdjust="spacingAndGlyphs">MASCULINO</text>
<text x="267.92" y="417.94" font-size="14.24" font-weight="700" fill="#3a3a3c" stroke="#3a3a3c" stroke-width="0.12" stroke-linejoin="round" textLength="34.05" lengthAdjust="spacingAndGlyphs">34%</text>
<text x="333.13" y="417.94" font-size="14.24" font-weight="700" fill="#3a3a3c" stroke="#3a3a3c" stroke-width="0.12" stroke-linejoin="round" textLength="32.62" lengthAdjust="spacingAndGlyphs">35%</text>
<text x="328.86" y="431.75" font-size="8.58" font-weight="400" fill="#58585a" stroke="#58585a" stroke-width="0.1" stroke-linejoin="round" textLength="45.60" lengthAdjust="spacingAndGlyphs">FEMENINO</text>
<text x="273.22" y="471.14" font-size="14.94" font-weight="700" fill="#3a3a3c" stroke="#3a3a3c" stroke-width="0.12" stroke-linejoin="round" textLength="26.17" lengthAdjust="spacingAndGlyphs">0%</text>
<text x="333.34" y="471.14" font-size="16.78" font-weight="700" fill="#3a3a3c" stroke="#3a3a3c" stroke-width="0.12" stroke-linejoin="round" textLength="39.84" lengthAdjust="spacingAndGlyphs">0,4%</text>
<text x="317.22" y="486.55" font-size="9.74" font-weight="400" fill="#58585a" stroke="#58585a" stroke-width="0.1" stroke-linejoin="round" textLength="72.03" lengthAdjust="spacingAndGlyphs">OTROS GÉNEROS</text>
<text x="632.54" y="358.94" font-size="14.10" font-weight="700" fill="#3a3a3c" stroke="#3a3a3c" stroke-width="0.12" stroke-linejoin="round" textLength="34.84" lengthAdjust="spacingAndGlyphs">95%</text>
<text x="698.23" y="360.74" font-size="14.94" font-weight="700" fill="#3a3a3c" stroke="#3a3a3c" stroke-width="0.12" stroke-linejoin="round" textLength="35.04" lengthAdjust="spacingAndGlyphs">96%</text>
<text x="689.15" y="372.25" font-size="8.87" font-weight="400" fill="#58585a" stroke="#58585a" stroke-width="0.1" stroke-linejoin="round" textLength="52.02" lengthAdjust="spacingAndGlyphs">MASCULINO</text>
<text x="636.66" y="413.94" font-size="14.10" font-weight="700" fill="#3a3a3c" stroke="#3a3a3c" stroke-width="0.12" stroke-linejoin="round" textLength="24.10" lengthAdjust="spacingAndGlyphs">5%</text>
<text x="703.09" y="414.94" font-size="14.94" font-weight="700" fill="#3a3a3c" stroke="#3a3a3c" stroke-width="0.12" stroke-linejoin="round" textLength="25.19" lengthAdjust="spacingAndGlyphs">4%</text>
<text x="693.26" y="427.35" font-size="8.87" font-weight="400" fill="#58585a" stroke="#58585a" stroke-width="0.1" stroke-linejoin="round" textLength="45.81" lengthAdjust="spacingAndGlyphs">FEMENINO</text>
<text x="636.22" y="467.34" font-size="15.08" font-weight="700" fill="#3a3a3c" stroke="#3a3a3c" stroke-width="0.12" stroke-linejoin="round" textLength="25.96" lengthAdjust="spacingAndGlyphs">0%</text>
<text x="702.52" y="468.04" font-size="14.94" font-weight="700" fill="#3a3a3c" stroke="#3a3a3c" stroke-width="0.12" stroke-linejoin="round" textLength="26.07" lengthAdjust="spacingAndGlyphs">0%</text>
<text x="681.72" y="481.05" font-size="8.72" font-weight="400" fill="#58585a" stroke="#58585a" stroke-width="0.1" stroke-linejoin="round" textLength="72.23" lengthAdjust="spacingAndGlyphs">OTROS GÉNEROS</text>
<text x="91.78" y="216.00" font-size="10.76" font-weight="700" fill="#333335" stroke="#333335" stroke-width="0.6" stroke-linejoin="round" textLength="55.65" lengthAdjust="spacingAndGlyphs">TRABAJO</text>
<text x="91.15" y="230.40" font-size="10.90" font-weight="700" fill="#333335" stroke="#333335" stroke-width="0.6" stroke-linejoin="round" textLength="71.81" lengthAdjust="spacingAndGlyphs">EN MUELLE</text>
<text x="459.91" y="216.30" font-size="11.34" font-weight="700" fill="#333335" stroke="#333335" stroke-width="0.6" stroke-linejoin="round" textLength="86.64" lengthAdjust="spacingAndGlyphs">OPERADORXS</text>
<text x="459.66" y="230.00" font-size="11.19" font-weight="700" fill="#333335" stroke="#333335" stroke-width="0.6" stroke-linejoin="round" textLength="68.71" lengthAdjust="spacingAndGlyphs">DE EQUIPO</text>
<text x="92.74" y="415.30" font-size="11.05" font-weight="700" fill="#333335" stroke="#333335" stroke-width="0.6" stroke-linejoin="round" textLength="116.83" lengthAdjust="spacingAndGlyphs">ADMINISTRATIVXS</text>
<text x="459.55" y="416.70" font-size="11.19" font-weight="700" fill="#333335" stroke="#333335" stroke-width="0.6" stroke-linejoin="round" textLength="62.08" lengthAdjust="spacingAndGlyphs">LIMPIEZA,</text>
<text x="460.05" y="430.70" font-size="11.63" font-weight="700" fill="#333335" stroke="#333335" stroke-width="0.6" stroke-linejoin="round" textLength="76.95" lengthAdjust="spacingAndGlyphs">SEGURIDAD,</text>
<text x="459.52" y="444.80" font-size="10.90" font-weight="700" fill="#333335" stroke="#333335" stroke-width="0.6" stroke-linejoin="round" textLength="109.88" lengthAdjust="spacingAndGlyphs">MANTENIMIENTO</text>
<text x="82.82" y="510.90" font-size="8.40" font-weight="400" fill="#9a9a9c" textLength="130.73" lengthAdjust="spacingAndGlyphs">* No se incluyen cargos jerárquicos</text>
<text x="74.41" y="528.20" font-size="10.60" font-weight="400" fill="#8a8a8c" textLength="295.26" lengthAdjust="spacingAndGlyphs">Fuente: Relevamiento del Programa Puertos en Clave de Géneros.</text>
<text x="73.37" y="550.65" font-size="17.01" font-weight="700" fill="#333335" stroke="#333335" stroke-width="1.7" stroke-linejoin="round" textLength="94.50" lengthAdjust="spacingAndGlyphs">PUERTOS</text>
<text x="72.64" y="560.30" font-size="4.22" font-weight="700" fill="#4a4a4c" textLength="28.41" lengthAdjust="spacingAndGlyphs">EN CLAVE DE</text>
<text x="102.38" y="565.30" font-size="10.32" font-weight="700" fill="#5b2c86" stroke="#5b2c86" stroke-width="1.0" stroke-linejoin="round" textLength="65.61" lengthAdjust="spacingAndGlyphs">GÉNEROS</text>
<text x="347.78" y="550.88" font-size="7.19" font-weight="700" fill="#1fabc2" stroke="#1fabc2" stroke-width="0.25" stroke-linejoin="round" textLength="71.55" lengthAdjust="spacingAndGlyphs">SUBSECRETARÍA DE</text>
<text x="334.88" y="557.98" font-size="7.63" font-weight="700" fill="#1fabc2" stroke="#1fabc2" stroke-width="0.25" stroke-linejoin="round" textLength="84.46" lengthAdjust="spacingAndGlyphs">ASUNTOS PORTUARIOS</text>
<text x="462.19" y="550.88" font-size="7.19" font-weight="700" fill="#1fabc2" stroke="#1fabc2" stroke-width="0.25" stroke-linejoin="round" textLength="107.90" lengthAdjust="spacingAndGlyphs">MINISTERIO DE PRODUCCIÓN,</text>
<text x="432.24" y="557.98" font-size="7.19" font-weight="700" fill="#1fabc2" stroke="#1fabc2" stroke-width="0.25" stroke-linejoin="round" textLength="136.99" lengthAdjust="spacingAndGlyphs">CIENCIA E INNOVACIÓN TECNOLÓGICA</text>
<text x="636.18" y="547.80" font-size="8.29" font-weight="700" fill="#505052" stroke="#505052" stroke-width="0.2" stroke-linejoin="round" textLength="130.02" lengthAdjust="spacingAndGlyphs">GOBIERNO DE LA PROVINCIA DE</text>
<text x="636.22" y="562.35" font-size="15.84" font-weight="700" fill="#11a7c2" stroke="#11a7c2" stroke-width="0.5" stroke-linejoin="round" textLength="130.16" lengthAdjust="spacingAndGlyphs">BUENOS AIRES</text>
<text x="92.3" y="429.2" font-size="12" font-weight="700" fill="#38383a">*</text>
</svg></body></html>
